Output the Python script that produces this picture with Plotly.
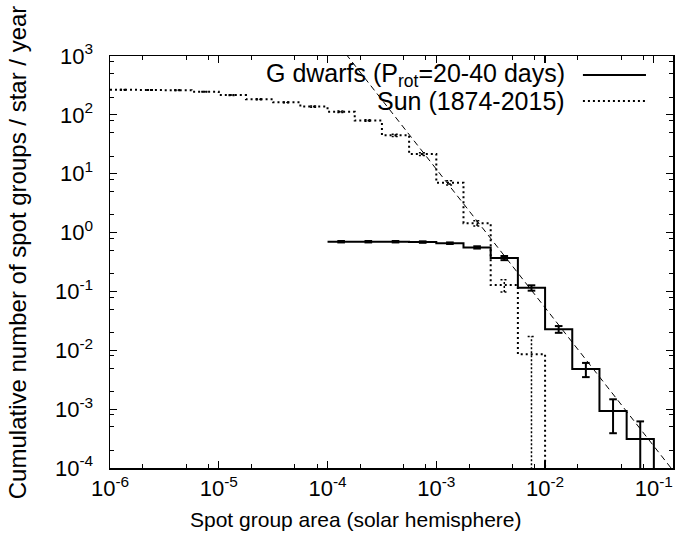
import numpy as np
import plotly.graph_objects as go

# ---------------- data ----------------
# Sun (1874-2015): cumulative histogram, 0.25-dex bins starting at 1e-6
sun_edges = [1e-6, 1.778e-6, 3.162e-6, 5.623e-6,
             1e-5, 1.778e-5, 3.162e-5, 5.623e-5,
             1e-4, 1.778e-4, 3.162e-4, 5.623e-4,
             1e-3, 1.778e-3, 3.162e-3, 5.623e-3, 1e-2]
sun_values = [266, 265, 263, 247, 217, 184, 163, 138,
              113, 80, 45, 21.6, 7.0, 1.44, 0.128, 0.0086]
sun_errors = [3, 3, 3, 3, 3, 3, 3, 3,
              3, 2.5, 2, 1.2, 0.6, 0.15, 0.03, 0.00858]

# G dwarfs (P_rot = 20-40 days): 0.25-dex bins starting at 1e-4
g_edges = [1e-4, 1.778e-4, 3.162e-4, 5.623e-4,
           1e-3, 1.778e-3, 3.162e-3, 5.623e-3,
           1e-2, 1.778e-2, 3.162e-2, 5.623e-2, 1e-1]
g_values = [0.70, 0.70, 0.70, 0.69, 0.66, 0.56, 0.37, 0.115,
            0.0228, 0.0048, 9.3e-4, 3.1e-4]
g_errors = [0.02, 0.02, 0.02, 0.02, 0.02, 0.025, 0.03, 0.012,
            0.003, 0.0013, 0.00054, 0.000309]

# power-law fit (dashed line), two end points
fit_x = [1e-4, 0.2]
fit_y = [2700, 4.6e-5]

x_tick_vals = [1e-6, 1e-5, 1e-4, 1e-3, 1e-2, 1e-1]
x_tick_text = ["10<sup>-6</sup>", "10<sup>-5</sup>", "10<sup>-4</sup>",
               "10<sup>-3</sup>", "10<sup>-2</sup>", "10<sup>-1</sup>"]
y_tick_vals = [1e-4, 1e-3, 1e-2, 1e-1, 1e0, 1e1, 1e2, 1e3]
y_tick_text = ["10<sup>-4</sup>", "10<sup>-3</sup>", "10<sup>-2</sup>",
               "10<sup>-1</sup>", "10<sup>0</sup>", "10<sup>1</sup>",
               "10<sup>2</sup>", "10<sup>3</sup>"]
legend_labels = ["G dwarfs (P<sub>rot</sub>=20-40 days)", "Sun (1874-2015)"]
x_title = "Spot group area (solar hemisphere)"
y_title = "Cumulative number of spot groups / star / year"

# ---------------- helpers ----------------
FLOOR = 1e-7          # stands in for zero on the log axis (below the range)
CAP = 10 ** 0.035     # half-width of error-bar caps (in dex)


def step_xy(edges, values):
    xs = list(edges[:-1]) + [edges[-1]]
    ys = list(values) + [FLOOR]
    return xs, ys


def centers(edges):
    e = np.array(edges)
    return list(np.sqrt(e[:-1] * e[1:]))


def errbar_xy(xc, vals, errs):
    xs, ys = [], []
    for x, v, d in zip(xc, vals, errs):
        lo = max(v - d, FLOOR)
        hi = v + d
        xs += [x, x, None, x / CAP, x * CAP, None, x / CAP, x * CAP, None]
        ys += [lo, hi, None, hi, hi, None, lo, lo, None]
    return xs, ys


fig = go.Figure()

# dashed fit
fig.add_trace(go.Scatter(x=fit_x, y=fit_y, mode="lines",
                         line=dict(color="black", width=1, dash="6px,4px"),
                         hoverinfo="skip"))

# Sun dotted histogram
sx, sy = step_xy(sun_edges, sun_values)
fig.add_trace(go.Scatter(x=sx, y=sy, mode="lines", line_shape="hv",
                         line=dict(color="black", width=2, dash="2px,3px")))
ex, ey = errbar_xy(centers(sun_edges), sun_values, sun_errors)
fig.add_trace(go.Scatter(x=ex, y=ey, mode="lines",
                         line=dict(color="black", width=1.5, dash="2px,2px")))

# G dwarfs solid histogram
gx, gy = step_xy(g_edges, g_values)
fig.add_trace(go.Scatter(x=gx, y=gy, mode="lines", line_shape="hv",
                         line=dict(color="black", width=2)))
ex, ey = errbar_xy(centers(g_edges), g_values, g_errors)
fig.add_trace(go.Scatter(x=ex, y=ey, mode="lines",
                         line=dict(color="black", width=2)))

# ---------------- legend (gnuplot style: text, then sample) ----------------
leg_y = [0.954, 0.891]
leg_text_y = [0.955, 0.891]
leg_dash = ["solid", "2px,3px"]
for lab, yy, ty, ds in zip(legend_labels, leg_y, leg_text_y, leg_dash):
    fig.add_annotation(x=0.812, y=ty, xref="paper", yref="paper",
                       text=lab, showarrow=False, xanchor="right",
                       yanchor="middle", font=dict(size=25))
    fig.add_shape(type="line", xref="paper", yref="paper",
                  x0=0.84, x1=0.952, y0=yy, y1=yy,
                  line=dict(color="black", width=2, dash=ds))

# axis titles (placed like the reference)
fig.add_annotation(x=0.437, y=-0.126, xref="paper", yref="paper",
                   text=x_title, showarrow=False, xanchor="center",
                   yanchor="middle", font=dict(size=21))
fig.add_annotation(x=-0.165, y=0.524, xref="paper", yref="paper",
                   text=y_title, showarrow=False, textangle=-90,
                   xanchor="center", yanchor="middle", font=dict(size=24))

x_minor = [m * 10.0 ** p for p in range(-6, 0) for m in (2, 5, 8) if m * 10.0 ** p < 0.15]
y_minor = [m * 10.0 ** p for p in range(-4, 3) for m in (2, 5, 8)]

axis_common = dict(type="log", showgrid=False, zeroline=False,
                   showline=True, linecolor="black", linewidth=1.5,
                   ticks="inside", ticklen=7, tickwidth=1.2, tickcolor="black",
                   mirror="ticks", automargin=False,
                   tickfont=dict(size=22))

fig.update_xaxes(**axis_common, range=[-6, np.log10(0.15)],
                 tickmode="array", tickvals=x_tick_vals, ticktext=x_tick_text,
                 minor=dict(tickvals=x_minor, ticks="inside", ticklen=4,
                            tickcolor="black", tickwidth=1))
fig.update_yaxes(**axis_common, range=[-4, 3],
                 tickmode="array", tickvals=y_tick_vals, ticktext=y_tick_text,
                 ticklabelstandoff=11,
                 minor=dict(tickvals=y_minor, ticks="inside", ticklen=4,
                            tickcolor="black", tickwidth=1))

fig.update_layout(width=675, height=544,
                  margin=dict(l=110, r=2, t=56, b=76),
                  plot_bgcolor="white", paper_bgcolor="white",
                  showlegend=False,
                  font=dict(family="Liberation Sans, Arial, sans-serif",
                            size=21, color="black"))

fig.write_html("out.html",
               config={"displayModeBar": False, "staticPlot": True},
               post_script="document.body.style.margin='0';"
                           "document.body.style.overflow='hidden';")
